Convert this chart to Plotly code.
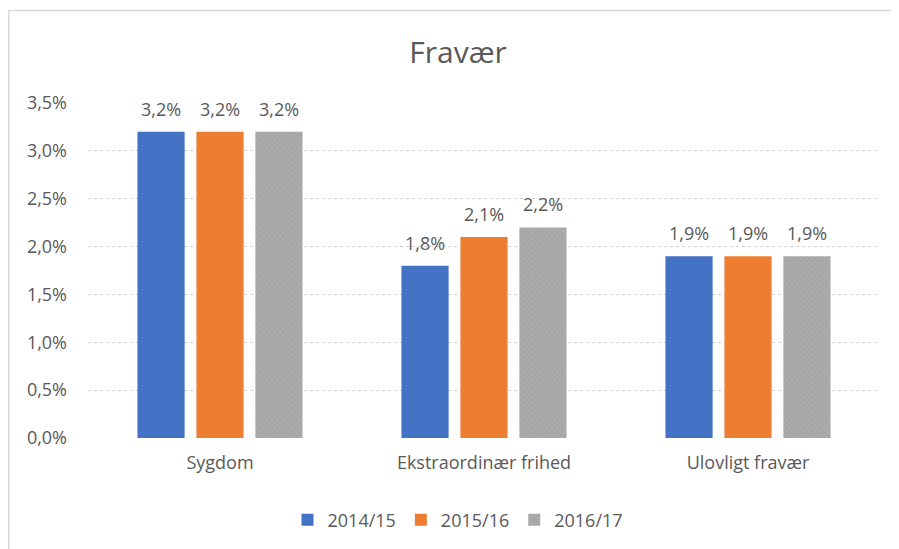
import plotly.graph_objects as go

categories = ["Sygdom", "Ekstraordinær frihed", "Ulovligt fravær"]
series_names = ["2014/15", "2015/16", "2016/17"]
values_2014 = [0.032, 0.018, 0.019]
values_2015 = [0.032, 0.021, 0.019]
values_2016 = [0.032, 0.022, 0.019]
tick_vals = [0, 0.005, 0.01, 0.015, 0.02, 0.025, 0.03, 0.035]

colors = ["#4472C4", "#ED7D31", "#A5A5A5"]
font_family = "Open Sans, DejaVu Sans, sans-serif"
text_color = "#595959"
bargap = 0.33

# the page is offset by the browser's 8px body margin
OFF = 8
plot_l, plot_r, plot_t, plot_b = 88 - OFF, 880 - OFF, 103 - OFF, 438 - OFF
W, H = 899, 549
pw, ph = plot_r - plot_l, plot_b - plot_t

all_series = [values_2014, values_2015, values_2016]

fig = go.Figure()
annotations = []
n = len(all_series)
for j, (name, vals, col) in enumerate(zip(series_names, all_series, colors)):
    marker = dict(color=col, line=dict(width=0))
    if name == "2016/17":
        marker["pattern"] = dict(shape="x", fgcolor="#8f8f8f", bgcolor="#ababab", size=4, solidity=0.25)
    fig.add_trace(go.Bar(x=categories, y=vals, name=name, marker=marker))
    slot = (1 - bargap) / n
    for i, v in enumerate(vals):
        annotations.append(dict(
            x=i + (j - (n - 1) / 2) * slot, y=v, xref="x", yref="y",
            text=f"{v*100:.1f}%".replace(".", ","), showarrow=False,
            yanchor="middle", xanchor="center", yshift=23,
            font=dict(family=font_family, size=18, color=text_color),
        ))

fig.update_layout(
    width=W, height=H,
    paper_bgcolor="white", plot_bgcolor="white",
    separators=",.",
    margin=dict(l=plot_l, r=W - plot_r, t=plot_t, b=H - plot_b),
    barmode="group", bargap=bargap, bargroupgap=0.2,
    title=dict(text="Fravær", x=(458 - OFF) / W, xanchor="center", y=1 - (52 - OFF) / H, yanchor="middle",
               font=dict(family=font_family, size=30, color=text_color)),
    font=dict(family=font_family, size=18, color=text_color),
    legend=dict(orientation="h", x=(458 - OFF - plot_l) / pw, xanchor="center",
                y=(plot_b - (520 - OFF)) / ph, yanchor="middle",
                font=dict(family=font_family, size=18, color=text_color),
                traceorder="normal"),
    yaxis=dict(range=[0, 0.035], tickvals=tick_vals, tickformat=".1%",
               showgrid=True, gridcolor="#cfcfcf", griddash="dot", gridwidth=1,
               zeroline=False, showline=False, ticks="", ticklabelstandoff=20,
               tickfont=dict(size=18, color=text_color)),
    xaxis=dict(range=[-0.5, 2.5], showgrid=False, showline=False, zeroline=False, ticks="",
               ticklabelstandoff=12, tickfont=dict(size=18, color=text_color)),
    annotations=annotations,
    shapes=[dict(type="rect", xref="paper", yref="paper",
                 x0=(0.75 - plot_l) / pw, x1=1.2, y0=-0.5, y1=1 + (plot_t - 2.5) / ph,
                 line=dict(color="#d9d9d9", width=1.5), fillcolor="rgba(0,0,0,0)", layer="below")],
)

fig.write_html("out.html")
